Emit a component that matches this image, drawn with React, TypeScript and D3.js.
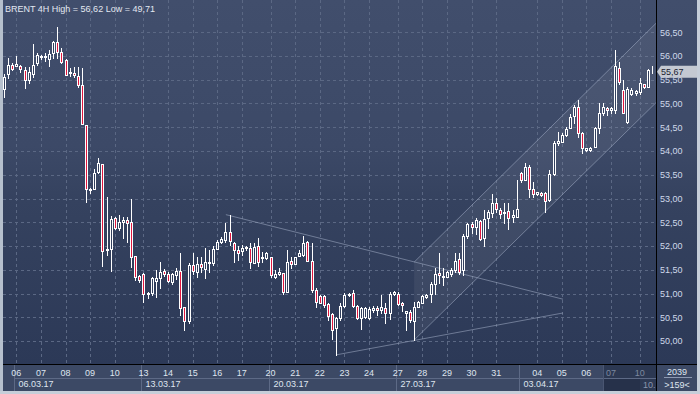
import React from "react";
import * as d3 from "d3";

const W = 700;
const H = 394;
const plotL = 3;
const plotR = 656;
const plotB = 364;
const axisR = 697;

const title = "BRENT 4H High = 56,62 Low = 49,71";

// 4H bars, oldest first
const opens = [
  55.3, 55.63, 55.81, 55.8, 55.8, 55.7, 55.49, 55.63, 55.85, 55.97, 55.98, 55.94, 56.06, 56.29, 56.08, 55.92, 55.64, 55.65, 55.58, 55.4,
  54.54, 53.18, 53.21, 53.55, 53.72, 51.91, 51.93, 52.58, 52.37, 52.5, 52.54, 52.51, 51.79, 51.37, 51.42, 50.98, 51.01, 51.26, 51.33, 51.47,
  51.42, 51.25, 51.39, 51.47, 50.71, 50.43, 51.61, 51.46, 51.63, 51.52, 51.64, 51.64, 51.93, 52.08, 52.12, 52.3, 52.06, 51.92, 51.9, 51.95,
  51.95, 51.65, 51.99, 51.74, 51.74, 51.76, 51.35, 51.42, 51.44, 51.04, 51.68, 51.63, 51.79, 51.81, 52.09, 51.69, 51.07, 50.95, 50.95, 50.78,
  50.56, 50.27, 50.48, 50.74, 50.96, 51.02, 50.74, 50.48, 50.51, 50.49, 50.66, 50.7, 50.66, 50.69, 50.58, 51.0, 51.0, 50.8, 50.58, 50.62,
  50.42, 50.72, 50.81, 50.92, 51.0, 51.21, 51.44, 51.34, 51.35, 51.41, 51.49, 51.72, 51.49, 52.21, 52.46, 52.39, 52.53, 52.16, 52.58, 52.7,
  52.91, 52.76, 52.69, 52.74, 52.6, 52.62, 53.54, 53.4, 53.66, 53.19, 53.09, 53.11, 53.11, 52.97, 53.51, 54.16, 54.19, 54.34, 54.48, 54.74,
  54.93, 54.37, 54.03, 54.03, 54.09, 54.48, 54.79, 54.9, 54.87, 54.86, 55.74, 55.28, 54.6, 55.19, 55.23, 55.25, 55.41, 55.35, 55.67,
];
const highs = [
  55.62, 55.95, 55.85, 56.0, 55.81, 55.77, 55.77, 56.25, 56.07, 56.03, 56.06, 56.13, 56.32, 56.62, 56.16, 55.94, 55.74, 55.77, 55.76, 55.74,
  54.54, 53.22, 53.63, 53.86, 53.72, 53.03, 52.63, 52.62, 52.65, 52.62, 52.62, 53.0, 51.79, 51.39, 51.44, 51.04, 51.34, 51.49, 51.67, 51.51,
  51.46, 51.44, 51.53, 51.85, 50.71, 51.65, 51.86, 51.76, 51.77, 51.95, 51.92, 51.99, 52.13, 52.18, 52.48, 52.65, 52.09, 51.99, 52.02, 52.0,
  52.06, 52.07, 52.16, 51.88, 51.88, 51.76, 51.49, 51.53, 51.44, 51.92, 51.77, 51.77, 51.92, 52.21, 52.11, 52.06, 51.11, 50.97, 50.97, 50.81,
  50.58, 50.51, 50.79, 51.02, 51.02, 51.07, 50.76, 50.71, 50.71, 50.71, 50.74, 50.74, 50.97, 50.79, 51.04, 51.06, 51.04, 50.83, 50.64, 50.65,
  50.83, 50.84, 50.97, 50.99, 51.25, 51.53, 51.86, 51.53, 51.48, 51.54, 51.86, 51.85, 52.25, 52.49, 52.51, 52.58, 52.55, 52.76, 52.76, 53.09,
  53.02, 52.81, 52.91, 52.91, 52.76, 53.38, 53.56, 53.75, 53.7, 53.35, 53.14, 53.13, 53.14, 53.61, 54.2, 54.39, 54.37, 54.5, 54.78, 54.97,
  55.07, 54.41, 54.06, 54.09, 54.51, 55.0, 55.0, 54.93, 54.92, 56.13, 55.88, 55.49, 55.34, 55.32, 55.28, 55.53, 55.42, 55.72, 55.79,
];
const lows = [
  55.14, 55.53, 55.7, 55.78, 55.67, 55.33, 55.43, 55.55, 55.81, 55.93, 55.9, 55.78, 55.95, 55.95, 55.85, 55.59, 55.58, 55.55, 55.35, 54.56,
  52.93, 53.11, 53.2, 53.53, 51.58, 51.81, 51.48, 52.35, 52.34, 52.16, 52.09, 51.56, 51.28, 51.25, 50.83, 50.91, 50.97, 50.92, 51.11, 51.37,
  51.25, 51.2, 51.3, 50.55, 50.23, 50.37, 51.42, 51.34, 51.46, 51.33, 51.46, 51.61, 51.93, 52.06, 52.09, 52.03, 51.67, 51.7, 51.81, 51.92,
  51.53, 51.65, 51.58, 51.67, 51.72, 51.35, 51.32, 51.39, 51.0, 51.04, 51.53, 51.63, 51.79, 51.79, 51.69, 51.04, 50.71, 50.79, 50.71, 50.44,
  50.04, 49.71, 50.44, 50.71, 50.95, 50.72, 50.46, 50.25, 50.48, 50.46, 50.62, 50.55, 50.58, 50.37, 50.46, 50.97, 50.76, 50.64, 50.23, 50.39,
  50.02, 50.71, 50.79, 50.9, 50.83, 51.0, 51.23, 51.18, 51.34, 51.37, 51.46, 51.42, 51.39, 52.16, 52.27, 52.25, 52.13, 52.0, 52.37, 52.62,
  52.72, 52.58, 52.49, 52.35, 52.51, 52.6, 53.35, 53.39, 53.04, 53.04, 53.07, 53.06, 52.72, 52.95, 53.5, 54.13, 54.18, 54.32, 54.48, 54.58,
  54.3, 53.95, 53.99, 54.01, 54.08, 54.37, 54.76, 54.76, 54.79, 54.79, 55.42, 54.79, 54.58, 55.18, 55.18, 55.21, 55.32, 55.34, 55.64,
];
const closes = [
  55.55, 55.82, 55.72, 55.84, 55.72, 55.49, 55.66, 55.82, 56.02, 56.0, 55.99, 56.04, 56.29, 56.08, 55.87, 55.61, 55.67, 55.59, 55.4, 54.56,
  53.19, 53.21, 53.53, 53.74, 51.89, 51.93, 52.56, 52.37, 52.51, 52.54, 52.49, 51.76, 51.35, 51.28, 50.98, 51.01, 51.32, 51.32, 51.45, 51.41,
  51.27, 51.41, 51.48, 50.7, 50.43, 51.61, 51.47, 51.63, 51.55, 51.66, 51.67, 51.93, 52.09, 52.14, 52.3, 52.1, 51.92, 51.86, 51.96, 51.97,
  51.67, 51.97, 51.67, 51.76, 51.85, 51.39, 51.42, 51.45, 51.04, 51.67, 51.63, 51.76, 51.85, 52.07, 51.69, 51.07, 50.83, 50.81, 50.76, 50.53,
  50.24, 50.48, 50.74, 50.97, 51.0, 50.74, 50.48, 50.69, 50.69, 50.67, 50.7, 50.66, 50.72, 50.58, 50.99, 51.03, 50.78, 50.76, 50.63, 50.44,
  50.71, 50.83, 50.95, 50.97, 51.21, 51.42, 51.39, 51.37, 51.46, 51.49, 51.69, 51.46, 52.21, 52.46, 52.39, 52.55, 52.14, 52.56, 52.72, 52.9,
  52.77, 52.67, 52.72, 52.58, 52.65, 52.77, 53.38, 53.66, 53.21, 53.09, 53.13, 53.08, 52.95, 53.51, 54.16, 54.2, 54.33, 54.46, 54.72, 54.93,
  54.37, 54.06, 54.06, 54.06, 54.49, 54.79, 54.93, 54.87, 54.9, 55.78, 55.46, 54.81, 55.3, 55.28, 55.27, 55.44, 55.34, 55.71, 55.67,
];

const priceTicks = [50, 50.5, 51, 51.5, 52, 52.5, 53, 53.5, 54, 54.5, 55, 55.5, 56, 56.5];
const lastPrice = 55.67;

// bar index where each day label sits
const dayBars = [3, 9, 15, 21, 27, 34, 40, 46, 52, 58, 65, 71, 77, 83, 89, 96, 102, 108, 114, 120, 130, 136, 142, 148, 155];
const dayNames = ["06", "07", "08", "09", "10", "13", "14", "15", "16", "17", "20", "21", "22", "23", "24", "27", "28", "29", "30", "31", "04", "05", "06", "07", "10"];
const weekBars = [3, 34, 65, 96, 126];
const weekNames = ["06.03.17", "13.03.17", "20.03.17", "27.03.17", "03.04.17"];
const shadeFromBar = 146;

// drawn objects: [bar, price] pairs
const channelLower = [[100, 50.02], [159, 55.02]];
const channelUpper = [[100, 51.66], [159, 56.69]];
const triangleUpper = [[54.1, 52.66], [136.3, 50.88]];
const triangleLower = [[81.1, 49.71], [136.3, 50.59]];

const x = d3.scaleLinear().domain([0, 158]).range([4, 652]);
const y = d3.scaleLinear().domain([50, 56.5]).range([341, 32.25]);
const fmt = (v: number) => d3.format(".2f")(v).replace(".", ",");
const font = "'Liberation Sans', Arial, sans-serif";

export default function App() {
  const px = (v: number) => Math.round(v) + 0.5;
  const seg = d3.line<number[]>().x(d => x(d[0])).y(d => y(d[1]));
  const chanPoly =
    channelLower.map(d => `${x(d[0])},${y(d[1])}`).join(" ") + " " +
    channelUpper.slice().reverse().map(d => `${x(d[0])},${y(d[1])}`).join(" ");
  const shadeX = Math.round(x(shadeFromBar));

  return (
    <>
      <style>{`body{margin:0;}`}</style>
      <svg width={W} height={H} style={{ display: "block" }} fontFamily={font}>
        <defs>
          <linearGradient id="bg" x1="0" y1="0" x2="0" y2={plotB} gradientUnits="userSpaceOnUse">
            <stop offset="0" stopColor="#414e6c" />
            <stop offset="0.4" stopColor="#3c4967" />
            <stop offset="0.55" stopColor="#35425f" />
            <stop offset="1" stopColor="#2c3957" />
          </linearGradient>
          <clipPath id="plot">
            <rect x={plotL} y={0} width={plotR - plotL} height={plotB} />
          </clipPath>
        </defs>

        <rect width={W} height={H} fill="#c6ced9" />
        <rect x={plotL} y={0} width={axisR - plotL} height={plotB} fill="url(#bg)" />
        <rect x={plotL} y={plotB} width={axisR - plotL} height={391 - plotB} fill="#3c4965" />

        {/* grid */}
        <g stroke="#5b6884" strokeDasharray="3,3" strokeWidth={1}>
          {priceTicks.map(t => (
            <line key={t} x1={plotL} x2={plotR} y1={px(y(t))} y2={px(y(t))} />
          ))}
          {dayBars.map((b, i) => (
            <line key={i} x1={px(x(b))} x2={px(x(b))} y1={0} y2={plotB} />
          ))}
        </g>

        <g clipPath="url(#plot)">
          {/* channel */}
          <polygon points={chanPoly} fill="#ffffff" fillOpacity={0.06} />
          <path d={seg(channelLower) || ""} stroke="#9aa5be" strokeOpacity={0.6} fill="none" />
          <path d={seg(channelUpper) || ""} stroke="#9aa5be" strokeOpacity={0.6} fill="none" />
          <path d={seg(triangleUpper) || ""} stroke="#9aa5be" strokeOpacity={0.6} fill="none" />
          <path d={seg(triangleLower) || ""} stroke="#9aa5be" strokeOpacity={0.6} fill="none" />

          {/* candles */}
          {opens.map((o, i) => {
            const c = closes[i];
            const cx = px(x(i));
            const top = Math.round(y(Math.max(o, c)));
            const bot = Math.round(y(Math.min(o, c)));
            const down = c < o;
            return (
              <g key={i}>
                <line x1={cx} x2={cx} y1={Math.round(y(highs[i]))} y2={Math.round(y(lows[i])) + 1} stroke="#ffffff" />
                <rect
                  x={cx - 1}
                  y={top + 0.5}
                  width={2}
                  height={Math.max(bot - top, 0)}
                  fill={down ? "#e0163e" : "#33405e"}
                  stroke="#ffffff"
                  strokeWidth={1}
                />
              </g>
            );
          })}
        </g>

        {/* axes frames */}
        <line x1={plotR + 0.5} x2={plotR + 0.5} y1={0} y2={391} stroke="#000" />
        <line x1={plotL} x2={axisR} y1={plotB + 0.5} y2={plotB + 0.5} stroke="#000" />

        {/* price labels */}
        <g fontSize={9} fill="#cfd9ea">
          {priceTicks.map(t => (
            <text key={t} x={660} y={y(t) + 3.3}>{fmt(t)}</text>
          ))}
        </g>
        <polygon
          points={`657,${y(lastPrice)} 661,${y(lastPrice) - 6} ${axisR},${y(lastPrice) - 6} ${axisR},${y(lastPrice) + 6} 661,${y(lastPrice) + 6}`}
          fill="#c4c9d2"
        />
        <text x={661} y={y(lastPrice) + 3.3} fontSize={9} fill="#1b2130">{fmt(lastPrice)}</text>

        {/* time axis */}
        <rect x={shadeX} y={plotB + 1} width={plotR - shadeX} height={391 - plotB - 1} fill="#2c3852" />
        <rect x={shadeX} y={378} width={640 - shadeX} height={13} fill="#26314a" />
        <line x1={Math.round(x(weekBars[0])) - 1.5} x2={plotR} y1={378.5} y2={378.5} stroke="#5d6a86" />
        {weekBars.map((b, i) => {
          const sx = Math.round(x(b)) - 1.5;
          return (
            <g key={i}>
              <line x1={sx} x2={sx} y1={plotB + 1} y2={391} stroke="#5d6a86" />
              <text x={sx + 4} y={387} fontSize={9} fill="#dfe5ef">{weekNames[i]}</text>
            </g>
          );
        })}
        <line x1={shadeX + 0.5} x2={shadeX + 0.5} y1={plotB + 1} y2={391} stroke="#4a5672" />
        {dayBars.map((b, i) => (
          <text
            key={i}
            x={x(b)}
            y={376}
            fontSize={9}
            textAnchor="middle"
            fill={b >= shadeFromBar ? "#7c889f" : "#dfe5ef"}
          >
            {dayNames[i]}
          </text>
        ))}
        <text x={643} y={388} fontSize={9} fill="#8a96ad">10.</text>
        <rect x={plotR} y={plotB + 1} width={1} height={27} fill="#000" />

        {/* bar counter box */}
        <text x={677} y={375} fontSize={9} fill="#dfe5ef" textAnchor="middle">2039</text>
        <line x1={664} x2={692} y1={377.5} y2={377.5} stroke="#8d99b1" />
        <text x={677} y={388} fontSize={9} fill="#dfe5ef" textAnchor="middle">&gt;159&lt;</text>

        {/* title */}
        <text x={5} y={11.5} fontSize={9} fill="#e3e8f1">{title}</text>

        {/* outer frame */}
        <rect x={0} y={0} width={plotL} height={H} fill="#b6c0cd" />
        <rect x={axisR} y={0} width={W - axisR} height={H} fill="#c6ced9" />
        <rect x={0} y={391} width={W} height={H - 391} fill="#c6ced9" />
      </svg>
    </>
  );
}
